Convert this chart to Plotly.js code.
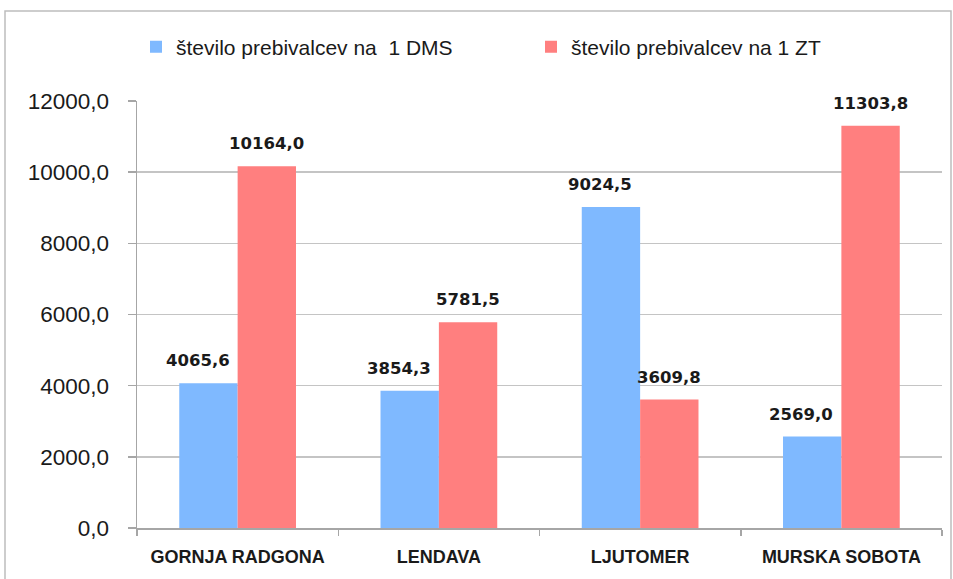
<!DOCTYPE html>
<html><head><meta charset="utf-8">
<script src="https://cdn.plot.ly/plotly-3.0.1.min.js"></script>
<style>html,body{margin:0;padding:0;background:#fff}#c{width:953px;height:579px}</style>
</head><body><div id="c"></div>
<script>
const categories = ["GORNJA RADGONA", "LENDAVA", "LJUTOMER", "MURSKA SOBOTA"];
const seriesNames = ["število prebivalcev na  1 DMS", "število prebivalcev na 1 ZT"];
const dmsValues = [4065.6, 3854.3, 9024.5, 2569.0];
const ztValues = [10164.0, 5781.5, 3609.8, 11303.8];
const yTicks = [0, 2000, 4000, 6000, 8000, 10000, 12000];

const W = 953, H = 579;
const M = {l: 137, r: 11, t: 101, b: 51};
const pw = W - M.l - M.r, ph = H - M.t - M.b;
const px = x => (x - M.l) / pw;
const py = y => (H - M.b - y) / ph;

const sans = "Liberation Sans, Arial, sans-serif";
const blue = "#7FB9FF", red = "#FF7F7F";

const traces = [
  {type: "bar", name: seriesNames[0], x: categories, y: dmsValues, marker: {color: blue}, hoverinfo: "none"},
  {type: "bar", name: seriesNames[1], x: categories, y: ztValues, marker: {color: red}, hoverinfo: "none"}
];

const ann = [];
const lblFont = {family: "DejaVu Sans", size: 16.5, color: "#1a1a1a", weight: "bold"};
categories.forEach((c, i) => {
  ann.push({x: c, y: dmsValues[i], xref: "x", yref: "y", text: dmsValues[i].toFixed(1).replace(".", ","),
    showarrow: false, yanchor: "bottom", xshift: -40, yshift: 11, font: lblFont});
  ann.push({x: c, y: ztValues[i], xref: "x", yref: "y", text: ztValues[i].toFixed(1).replace(".", ","),
    showarrow: false, yanchor: "bottom", xshift: 29, yshift: 11, font: lblFont});
});

const x0 = px(5), x1 = px(951), y0 = py(11), y1 = py(600);
const layout = {
  width: W, height: H, margin: M,
  paper_bgcolor: "#fff", plot_bgcolor: "#fff",
  separators: ",.",
  barmode: "group", bargap: 0.42, bargroupgap: 0,
  showlegend: true,
  legend: {orientation: "h", x: px(136), xanchor: "left", y: py(47), yanchor: "middle",
    font: {family: sans, size: 21, color: "#1a1a1a"}, entrywidth: 350, entrywidthmode: "pixels",
    itemwidth: 30, bgcolor: "rgba(0,0,0,0)"},
  xaxis: {type: "category", showline: true, linecolor: "#a6a6a6", linewidth: 1.5,
    ticks: "outside", tickson: "boundaries", ticklen: 6, tickcolor: "#a6a6a6", tickwidth: 1.5,
    showgrid: false, ticklabelstandoff: 12,
    tickfont: {family: sans, size: 18, color: "#1a1a1a", weight: "bold"}, fixedrange: true},
  yaxis: {range: [0, 12000], tickvals: yTicks, tickformat: ".1f", showline: true, linecolor: "#a6a6a6",
    linewidth: 1.5, ticks: "outside", ticklen: 8, tickcolor: "#a6a6a6", tickwidth: 1.5,
    showgrid: true, gridcolor: "#c4c4c4", gridwidth: 1.5, zeroline: false, ticklabelstandoff: 14,
    tickfont: {family: sans, size: 22.5, color: "#1a1a1a"}, fixedrange: true},
  annotations: ann,
  shapes: [{type: "rect", xref: "paper", yref: "paper", x0: x0, x1: x1, y0: y1, y1: y0,
    line: {color: "#bdbdbd", width: 1.5}, fillcolor: "rgba(0,0,0,0)", layer: "below"}]
};
Plotly.newPlot("c", traces, layout, {displayModeBar: false, staticPlot: true});
</script></body></html>
